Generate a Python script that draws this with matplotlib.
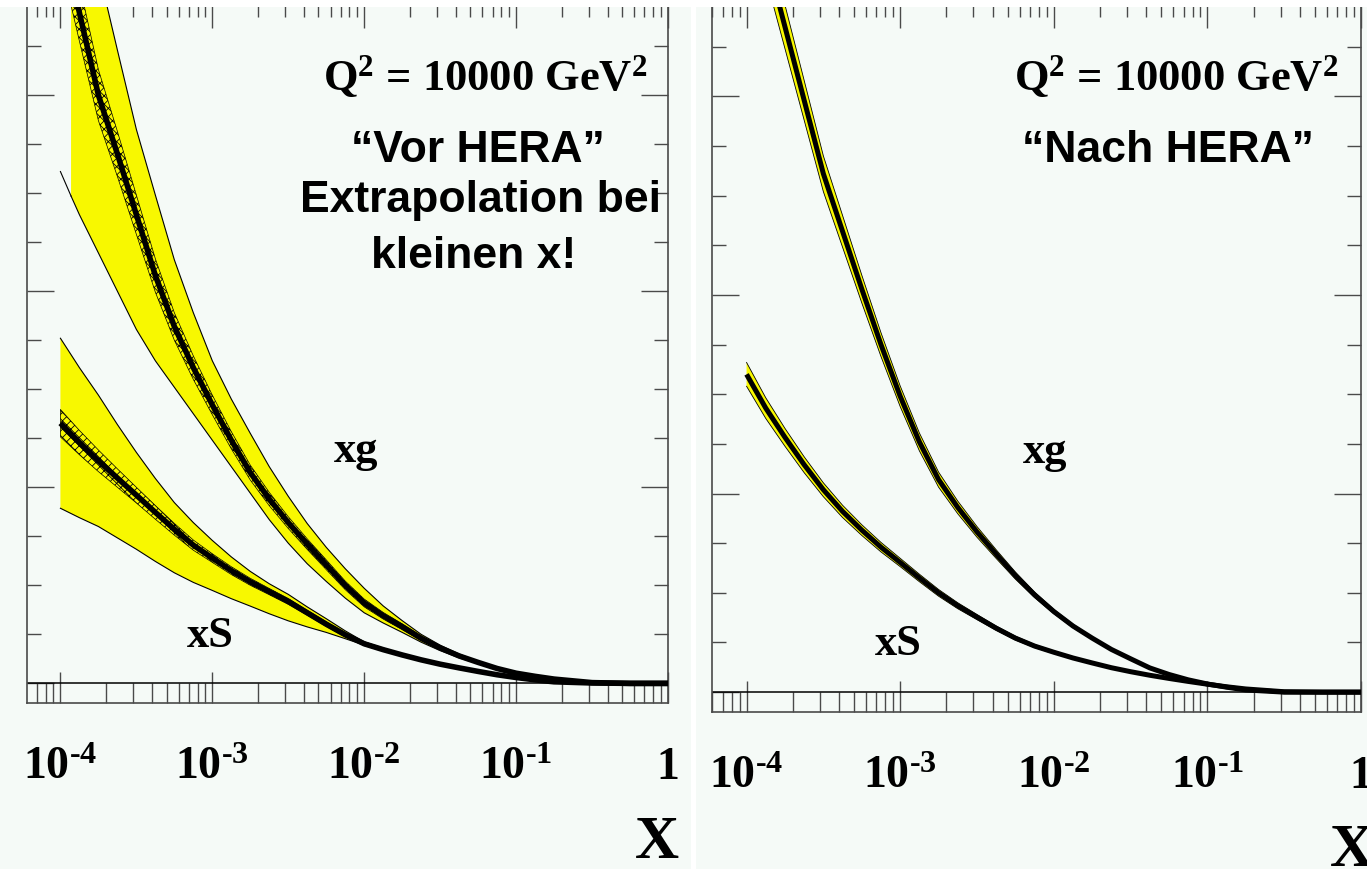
import numpy as np
import matplotlib
matplotlib.use("Agg")
import matplotlib.pyplot as plt
from matplotlib.patches import Rectangle
from matplotlib.ticker import LogLocator, NullFormatter, MultipleLocator

# ---------------------------------------------------------------- data
# sampling positions in log10(x)
LOGX = [-4.0, -3.875, -3.75, -3.625, -3.5, -3.375, -3.25, -3.125, -3.0,
        -2.875, -2.75, -2.625, -2.5, -2.375, -2.25, -2.125, -2.0,
        -1.875, -1.75, -1.625, -1.5, -1.375, -1.25, -1.125, -1.0,
        -0.875, -0.75, -0.5, -0.25, 0.0]

# "Vor HERA": gluon xg, central fit
vor_xg = [38.5, 34.2, 30.0, 27.0, 23.9, 20.8, 18.2, 16.1, 14.2,
          12.4, 10.75, 9.4, 8.2, 7.1, 6.05, 5.0, 4.1,
          3.45, 2.89, 2.3, 1.81, 1.4, 1.07, 0.76, 0.52,
          0.36, 0.22, 0.04, 0.0, 0.0]
# inner (experimental) error half-width around the central fit
vor_xg_inner = [1.6, 1.45, 1.3, 1.15, 1.0, 0.85, 0.7, 0.6, 0.5,
                0.44, 0.38, 0.34, 0.3, 0.27, 0.25, 0.22, 0.2,
                0.17, 0.15, 0.12, 0.1, 0.08, 0.06, 0.05, 0.04,
                0.03, 0.02, 0.0, 0.0, 0.0]
# outer (total) error band, starts slightly above x = 1e-4
VOR_XG_BAND_LOGX = [-3.93] + LOGX[1:]
vor_xg_hi = [42.5, 40.5, 36.4, 32.3, 28.25, 24.9, 21.6, 18.9, 16.45,
             14.5, 12.75, 11.05, 9.54, 8.15, 6.94, 5.85, 4.85,
             3.95, 3.2, 2.5, 1.95, 1.5, 1.12, 0.8, 0.56,
             0.38, 0.24, 0.04, 0.0, 0.0]
vor_xg_lo = [24.85, 23.9, 21.95, 20.0, 18.05, 16.45, 15.1, 13.75, 12.4,
             11.05, 9.7, 8.35, 7.15, 6.1, 5.2, 4.35, 3.6,
             3.08, 2.6, 2.1, 1.67, 1.3, 1.0, 0.72, 0.48,
             0.33, 0.2, 0.03, 0.0, 0.0]
# lower band edge continued down to x = 1e-4
VOR_XG_LO_LEAD_LOGX = [-4.0, -3.93]
vor_xg_lo_lead = [26.1, 24.85]

# "Vor HERA": sea quarks xS
vor_xs = [13.27, 12.28, 11.35, 10.47, 9.6, 8.72, 7.86, 7.05, 6.39,
          5.75, 5.18, 4.68, 4.18, 3.6, 3.02, 2.48, 2.02,
          1.72, 1.45, 1.2, 0.98, 0.79, 0.61, 0.44, 0.30,
          0.18, 0.08, 0.02, 0.0, 0.0]
vor_xs_inner = [0.7, 0.62, 0.55, 0.47, 0.4, 0.35, 0.3, 0.26, 0.22,
                0.2, 0.18, 0.16, 0.15, 0.13, 0.12, 0.11, 0.1,
                0.08, 0.07, 0.06, 0.05, 0.04, 0.03, 0.025, 0.02,
                0.015, 0.01, 0.0, 0.0, 0.0]
vor_xs_hi = [17.6, 16.1, 14.7, 13.2, 11.78, 10.45, 9.22, 8.2, 7.29,
             6.45, 5.71, 5.08, 4.54, 3.9, 3.3, 2.68, 2.12,
             1.8, 1.5, 1.24, 1.0, 0.8, 0.62, 0.45, 0.31,
             0.19, 0.09, 0.02, 0.0, 0.0]
vor_xs_lo = [8.93, 8.45, 8.0, 7.42, 6.84, 6.22, 5.64, 5.15, 4.74,
             4.32, 3.94, 3.55, 3.19, 2.88, 2.6, 2.28, 1.95,
             1.68, 1.42, 1.18, 0.96, 0.78, 0.6, 0.43, 0.29,
             0.17, 0.07, 0.02, 0.0, 0.0]

# "Nach HERA": gluon and sea with their (narrow) error half-widths
nach_xg = [41.5, 37.2, 33.5, 29.8, 26.1, 23.2, 20.3, 17.5, 14.9,
           12.6, 10.7, 9.3, 8.07, 6.95, 5.87, 4.9, 4.06,
           3.33, 2.72, 2.15, 1.68, 1.22, 0.89, 0.62, 0.41,
           0.25, 0.11, 0.0, 0.0, 0.0]
nach_xg_err = [1.3, 1.2, 1.1, 1.0, 0.9, 0.8, 0.7, 0.6, 0.52,
               0.45, 0.38, 0.32, 0.27, 0.22, 0.18, 0.14, 0.11,
               0.09, 0.07, 0.055, 0.045, 0.04, 0.03, 0.025, 0.02,
               0.015, 0.01, 0.0, 0.0, 0.0]
nach_xs = [16.0, 14.3, 12.83, 11.45, 10.19, 9.1, 8.16, 7.3, 6.53,
           5.75, 5.0, 4.35, 3.78, 3.22, 2.72, 2.32, 2.01,
           1.72, 1.47, 1.23, 1.03, 0.85, 0.69, 0.54, 0.40,
           0.27, 0.16, 0.02, 0.0, 0.0]
nach_xs_err = [0.6, 0.52, 0.45, 0.4, 0.35, 0.31, 0.27, 0.24, 0.21,
               0.19, 0.17, 0.15, 0.13, 0.11, 0.1, 0.08, 0.07,
               0.06, 0.05, 0.045, 0.04, 0.035, 0.03, 0.025, 0.02,
               0.015, 0.01, 0.0, 0.0, 0.0]

XTICKS = [1e-4, 1e-3, 1e-2, 1e-1, 1.0]
XTICK_LABELS = [r"10$^{\text{-}4}$", r"10$^{\text{-}3}$", r"10$^{\text{-}2}$",
                r"10$^{\text{-}1}$", "1"]

# ---------------------------------------------------------------- style
W, H, DPI = 1367, 869, 100
BG = "#F5FAF7"
YELLOW = "#F8F800"
AXC = "#4a4a4a"
SERIF = "Liberation Serif"
SANS = "Liberation Sans"

plt.rcParams["mathtext.fontset"] = "custom"
plt.rcParams["mathtext.rm"] = "Liberation Serif:bold"
plt.rcParams["mathtext.bf"] = "Liberation Serif:bold"
plt.rcParams["mathtext.it"] = "Liberation Serif:italic:bold"
plt.rcParams["mathtext.default"] = "rm"
plt.rcParams["hatch.linewidth"] = 0.6


def fx(px):
    return px / W


def fy(py):
    return 1.0 - py / H


fig = plt.figure(figsize=(W / DPI, H / DPI), dpi=DPI, facecolor="white")

# light panel backgrounds
for x0, x1 in [(0, 690.7), (695.7, W)]:
    fig.add_artist(Rectangle((fx(x0), 0), fx(x1) - fx(x0), fy(7), transform=fig.transFigure,
                             facecolor=BG, edgecolor="none", zorder=-10))


def setup(ax, xmin_log):
    ax.set_facecolor(BG)
    ax.set_xscale("log")
    ax.set_xlim(10 ** xmin_log, 1.0)
    ax.set_ylim(-1.0, 35.0)
    ax.set_xticks(XTICKS, XTICK_LABELS)
    ax.xaxis.set_minor_locator(LogLocator(base=10, subs=np.arange(2, 10), numticks=60))
    ax.xaxis.set_minor_formatter(NullFormatter())
    ax.yaxis.set_major_locator(MultipleLocator(10))
    ax.yaxis.set_minor_locator(MultipleLocator(2.5))
    ax.yaxis.set_major_formatter(NullFormatter())
    for s in ax.spines.values():
        s.set_color(AXC)
        s.set_linewidth(1.2)
    ax.tick_params(axis="x", which="major", direction="in", length=22, width=1.0,
                   color=AXC, top=True, bottom=True, labelsize=33, pad=32)
    ax.tick_params(axis="x", which="minor", direction="in", length=14.5, width=1.0,
                   color=AXC, top=True, bottom=True)
    ax.tick_params(axis="y", which="major", direction="in", length=19.5, width=1.0,
                   color=AXC, left=True, right=True, labelleft=False)
    ax.tick_params(axis="y", which="minor", direction="in", length=10, width=1.0,
                   color=AXC, left=True, right=True)
    for lab in ax.get_xticklabels():
        lab.set_fontfamily(SERIF)
        lab.set_fontweight("bold")
    ax.axhline(0.0, color="black", lw=1.1, zorder=2)


def lx(logs):
    return 10.0 ** np.asarray(logs)


axL = fig.add_axes([fx(27), fy(703), fx(668) - fx(27), fy(-3) - fy(703)])
axR = fig.add_axes([fx(712), fy(712), fx(1361) - fx(712), fy(-3) - fy(712)])
setup(axL, -4.22)
setup(axR, -4.225)

x = lx(LOGX)

# ---- left panel: before HERA
xg_bx = lx(VOR_XG_BAND_LOGX)
axL.fill_between(xg_bx, vor_xg_lo, vor_xg_hi, facecolor=YELLOW, edgecolor="none", zorder=3)
axL.plot(xg_bx, vor_xg_hi, color="black", lw=0.8, zorder=4)
axL.plot(xg_bx, vor_xg_lo, color="black", lw=0.8, zorder=4)
axL.plot(lx(VOR_XG_LO_LEAD_LOGX), vor_xg_lo_lead, color="black", lw=0.8, zorder=4)

axL.fill_between(x, vor_xs_lo, vor_xs_hi, facecolor=YELLOW, edgecolor="none", zorder=3)
axL.plot(x, vor_xs_hi, color="black", lw=0.8, zorder=4)
axL.plot(x, vor_xs_lo, color="black", lw=0.8, zorder=4)

for c, hw in [(vor_xg, vor_xg_inner), (vor_xs, vor_xs_inner)]:
    c = np.asarray(c)
    hw = np.asarray(hw)
    axL.fill_between(x, c - hw, c + hw, facecolor=YELLOW, edgecolor="black",
                     hatch="xxxx", linewidth=0.5, zorder=5)
    axL.plot(x, c, color="black", lw=4.0, zorder=6, solid_capstyle="butt")

# ---- right panel: after HERA
for c, hw in [(nach_xg, nach_xg_err), (nach_xs, nach_xs_err)]:
    c = np.asarray(c)
    hw = np.asarray(hw)
    axR.fill_between(x, c - hw, c + hw, facecolor=YELLOW, edgecolor="none", zorder=3)
    axR.plot(x, c + hw, color="black", lw=0.6, zorder=4)
    axR.plot(x, c - hw, color="black", lw=0.6, zorder=4)
    axR.plot(x, c, color="black", lw=3.6, zorder=6, solid_capstyle="butt")

# ---- annotations
serif_kw = dict(fontfamily=SERIF, fontweight="bold", color="black")
sans_kw = dict(fontfamily=SANS, fontweight="bold", color="black")

q2 = r"Q$^{2}$ = 10000 GeV$^{2}$"
fig.text(fx(485), fy(90), q2, fontsize=32, ha="center", va="baseline", **serif_kw)
fig.text(fx(1176), fy(90), q2, fontsize=32, ha="center", va="baseline", **serif_kw)

fig.text(fx(478), fy(162), "\u201cVor HERA\u201d", fontsize=32, ha="center", va="baseline", **sans_kw)
fig.text(fx(480), fy(212), "Extrapolation bei", fontsize=32, ha="center", va="baseline", **sans_kw)
fig.text(fx(474), fy(268), "kleinen x!", fontsize=32, ha="center", va="baseline", **sans_kw)
fig.text(fx(1168), fy(162), "\u201cNach HERA\u201d", fontsize=32, ha="center", va="baseline", **sans_kw)

fig.text(fx(356), fy(462), "xg", fontsize=32, ha="center", va="baseline", **serif_kw)
fig.text(fx(210), fy(647), "xS", fontsize=32, ha="center", va="baseline", **serif_kw)
fig.text(fx(1045), fy(463), "xg", fontsize=32, ha="center", va="baseline", **serif_kw)
fig.text(fx(898), fy(655), "xS", fontsize=32, ha="center", va="baseline", **serif_kw)

fig.text(fx(657), fy(858), "X", fontsize=44, ha="center", va="baseline", **serif_kw)
fig.text(fx(1352), fy(866), "X", fontsize=44, ha="center", va="baseline", **serif_kw)

# white strip along the top edge
fig.add_artist(Rectangle((0, fy(7)), 1, 1 - fy(7), transform=fig.transFigure,
                         facecolor="white", edgecolor="none", zorder=20))
# white gap between the panels
fig.add_artist(Rectangle((fx(690.7), 0), fx(695.7) - fx(690.7), 1, transform=fig.transFigure,
                         facecolor="white", edgecolor="none", zorder=20))

fig.savefig("out.png", dpi=DPI, facecolor="white")
